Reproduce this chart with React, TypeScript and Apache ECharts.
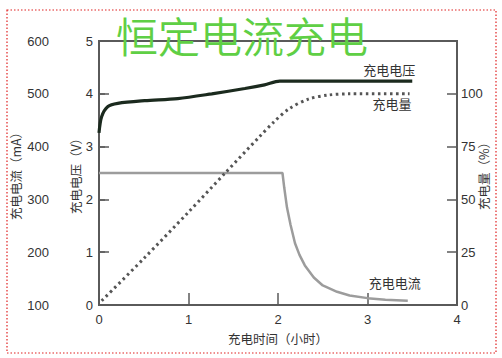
import React, { useEffect, useRef } from "react";
import * as echarts from "echarts";

const xTicks = [0, 1, 2, 3, 4];
const currentTicks = [100, 200, 300, 400, 500, 600];
const voltageTicks = [0, 1, 2, 3, 4, 5];
const chargeTicks = [0, 25, 50, 75, 100];

const voltageTime = [0, 0.03, 0.1, 0.21, 0.51, 0.88, 1.26, 1.63, 1.85, 2.02, 2.5, 3.0, 3.5];
const voltageValues = [3.26, 3.57, 3.76, 3.82, 3.87, 3.91, 4.0, 4.1, 4.17, 4.24, 4.24, 4.24, 4.24];

const chargeTime = [0.03, 0.5, 1.0, 1.41, 1.8, 1.95, 2.12, 2.34, 2.56, 2.8, 3.47];
const chargeValues = [2, 22, 44, 62.5, 80, 86.5, 92.8, 97.5, 99.4, 100, 100];

const currentTime = [0, 2.05, 2.07, 2.1, 2.14, 2.19, 2.24, 2.3, 2.4, 2.5, 2.66, 2.8, 3.0, 3.2, 3.45];
const currentValues = [350, 350, 322, 285, 252, 217, 195, 175, 152, 137, 125, 118, 113, 110, 108];

const FONT = "'Liberation Sans', 'Noto Sans CJK SC', sans-serif";
const NAME_FONT = "'Noto Sans CJK TC', 'Noto Sans CJK SC', sans-serif";
const AXIS_COLOR = "#5a5a5a";
const TEXT_COLOR = "#333";

function pairs(t: number[], v: number[]) {
  return t.map((x, i) => [x, v[i]]);
}

export default function App() {
  const ref = useRef<HTMLDivElement>(null);
  useEffect(() => {
    if (!ref.current) return;
    const chart = echarts.init(ref.current, undefined, { renderer: "svg" });
    const axisLine = { show: true, lineStyle: { color: AXIS_COLOR, width: 2 } };
    const axisLabel = { color: TEXT_COLOR, fontSize: 13, fontFamily: FONT };
    const nameStyle = { color: TEXT_COLOR, fontSize: 12.5, fontFamily: NAME_FONT };
    chart.setOption({
      animation: false,
      backgroundColor: "#fff",
      title: {
        text: "恒定电流充电",
        left: 116,
        top: 12,
        padding: 0,
        textStyle: {
          color: "#5fcf45",
          fontSize: 42,
          lineHeight: 44,
          fontWeight: 350,
          fontFamily: "'Noto Sans CJK SC', sans-serif",
        },
      },
      graphic: [
        {
          type: "rect",
          shape: { x: 7, y: 10, width: 489, height: 343 },
          style: { fill: "none", stroke: "#e02020", lineWidth: 1.2, lineDash: [1.5, 2] },
          silent: true,
        },
      ],
      grid: {
        left: 99,
        right: 45,
        top: 41,
        bottom: 53,
        outerBoundsMode: "none",
        containLabel: false,
        show: true,
        borderColor: AXIS_COLOR,
        borderWidth: 2,
        backgroundColor: "transparent",
      },
      xAxis: {
        type: "value",
        min: xTicks[0],
        max: xTicks[xTicks.length - 1],
        interval: 1,
        axisLine,
        axisTick: { show: true, inside: true, length: 12, lineStyle: { color: AXIS_COLOR, width: 1.5 } },
        axisLabel: { ...axisLabel, margin: 8 },
        splitLine: { show: false },
        name: "充电时间（小时）",
        nameLocation: "middle",
        nameGap: 27,
        nameMoveOverlap: false,
        nameTextStyle: nameStyle,
      },
      yAxis: [
        {
          type: "value",
          position: "left",
          offset: 46,
          min: currentTicks[0],
          max: currentTicks[currentTicks.length - 1],
          interval: 100,
          axisLine,
          axisTick: { show: true, inside: true, length: 6, lineStyle: { color: AXIS_COLOR, width: 1.5 } },
          axisLabel: { ...axisLabel, margin: 4 },
          splitLine: { show: false },
          name: "充电电流（mA）",
          nameLocation: "middle",
          nameRotate: 90,
          nameGap: 31,
          nameMoveOverlap: false,
          nameTextStyle: nameStyle,
        },
        {
          type: "value",
          position: "left",
          offset: 0,
          min: voltageTicks[0],
          max: voltageTicks[voltageTicks.length - 1],
          interval: 1,
          axisLine,
          axisTick: { show: true, inside: true, length: 10, lineStyle: { color: AXIS_COLOR, width: 1.5 } },
          axisLabel: { ...axisLabel, margin: 6 },
          splitLine: { show: false },
          name: "充电电压（V）",
          nameLocation: "middle",
          nameRotate: 90,
          nameGap: 17,
          nameMoveOverlap: false,
          nameTextStyle: nameStyle,
        },
        {
          type: "value",
          position: "right",
          min: chargeTicks[0],
          max: 125,
          interval: 25,
          axisLine,
          axisTick: { show: true, inside: true, length: 10, lineStyle: { color: AXIS_COLOR, width: 1.5 } },
          axisLabel: {
            ...axisLabel,
            margin: 4,
            formatter: (v: number) => (chargeTicks.includes(v) ? String(v) : ""),
          },
          splitLine: { show: false },
          name: "充电量（%）",
          nameLocation: "middle",
          nameRotate: 90,
          nameGap: 20,
          nameMoveOverlap: false,
          nameTextStyle: nameStyle,
        },
      ],
      series: [
        {
          name: "充电电流",
          type: "line",
          yAxisIndex: 0,
          data: pairs(currentTime, currentValues),
          showSymbol: false,
          smooth: false,
          lineStyle: { color: "#9c9c9c", width: 2.5 },
          endLabel: {
            show: true,
            formatter: "{a}",
            align: "right",
            verticalAlign: "bottom",
            distance: 0,
            offset: [13, -11],
            color: TEXT_COLOR,
            fontSize: 13,
            fontFamily: FONT,
          },
        },
        {
          name: "充电量",
          type: "line",
          yAxisIndex: 2,
          data: pairs(chargeTime, chargeValues),
          showSymbol: false,
          smooth: 0.3,
          lineStyle: { color: "#555", width: 3, type: [2.5, 3.5] },
          endLabel: {
            show: true,
            formatter: "{a}",
            align: "right",
            verticalAlign: "top",
            distance: 0,
            offset: [2, 4],
            color: TEXT_COLOR,
            fontSize: 13,
            fontFamily: FONT,
          },
        },
        {
          name: "充电电压",
          type: "line",
          yAxisIndex: 1,
          data: pairs(voltageTime, voltageValues),
          showSymbol: false,
          smooth: 0.3,
          lineStyle: { color: "#1b2a1e", width: 3.2 },
          endLabel: {
            show: true,
            formatter: "{a}",
            align: "right",
            verticalAlign: "bottom",
            distance: 0,
            offset: [3, -4],
            color: TEXT_COLOR,
            fontSize: 13,
            fontFamily: FONT,
          },
        },
      ],
    });
    return () => chart.dispose();
  }, []);
  return (
    <div
      ref={ref}
      style={{ position: "fixed", left: 0, top: 0, width: 502, height: 358, background: "#fff" }}
    />
  );
}
